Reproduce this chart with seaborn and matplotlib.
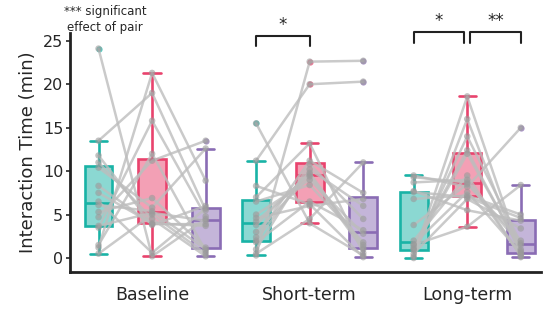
import pandas as pd
import seaborn as sns
import matplotlib.pyplot as plt
from matplotlib.colors import to_rgba

sessions = ["Baseline", "Short-term", "Long-term"]
conditions = ["A", "B", "C"]
edge_colors = ["#19b3a6", "#e9436d", "#8a6cb4"]

# one value per participant (16) for each session / condition
bl_a = [24.1, 0.5, 13.5, 6.1, 1.2, 11.0, 4.7, 8.3, 3.5, 10.4, 1.5, 6.5, 5.3, 11.8, 3.7, 7.5]
bl_b = [0.2, 5.0, 19.0, 5.4, 21.3, 4.5, 11.2, 3.9, 15.8, 5.8, 12.0, 0.6, 6.9, 3.8, 5.2, 4.0]
bl_c = [4.5, 0.5, 5.5, 1.0, 8.9, 0.2, 13.5, 3.9, 4.8, 12.6, 0.8, 5.7, 1.2, 6.0, 4.3, 3.7]
st_a = [15.5, 0.3, 4.2, 2.0, 11.2, 3.0, 1.8, 7.0, 0.5, 5.0, 2.4, 8.3, 1.0, 6.5, 4.6, 3.8]
st_b = [4.0, 22.6, 9.6, 10.2, 20.0, 9.4, 6.5, 13.2, 4.5, 9.0, 11.2, 6.2, 10.8, 8.4, 6.0, 9.8]
st_c = [0.3, 22.7, 1.5, 6.0, 20.3, 1.0, 3.2, 0.6, 11.0, 2.8, 7.5, 0.1, 4.5, 1.8, 6.8, 1.2]
lt_a = [0.2, 9.5, 1.0, 7.6, 0.0, 3.8, 1.5, 8.7, 0.9, 6.8, 1.2, 7.7, 2.0, 0.5, 9.3, 1.6]
lt_b = [18.6, 8.2, 12.0, 7.0, 16.0, 8.5, 3.6, 9.0, 14.0, 7.2, 12.4, 5.5, 9.5, 6.8, 8.7, 7.6]
lt_c = [0.5, 15.0, 1.0, 4.6, 0.1, 2.0, 8.4, 0.3, 1.7, 5.0, 0.8, 4.3, 0.2, 3.4, 1.5, 0.6]

values = {
    "Baseline": [bl_a, bl_b, bl_c],
    "Short-term": [st_a, st_b, st_c],
    "Long-term": [lt_a, lt_b, lt_c],
}

OFFSET = 0.34

rows = []
for si, s in enumerate(sessions):
    for ci, c in enumerate(conditions):
        for subj, v in enumerate(values[s][ci]):
            rows.append({"subject": subj, "session": s, "cond": c, "time": v,
                         "pos": si + (ci - 1) * OFFSET, "unit": f"{subj}-{s}"})
df = pd.DataFrame(rows)

sns.set_style("white")
plt.rcParams["font.family"] = ["DejaVu Sans"]

fig, ax = plt.subplots(figsize=(5.44, 3.14), dpi=100)
fig.subplots_adjust(left=0.129, right=0.995, bottom=0.134, top=0.895)

sns.boxplot(data=df, x="pos", y="time", hue="cond", palette=edge_colors,
            native_scale=True, dodge=False, width=0.55, linewidth=1.9,
            saturation=1, fliersize=4.5, legend=False, ax=ax)

for cont, col in zip(ax.containers, edge_colors):
    for b in cont.boxes:
        b.set_facecolor(to_rgba(col, 0.5))
        b.set_edgecolor(col)
    for ln in list(cont.whiskers) + list(cont.caps) + list(cont.medians):
        ln.set_color(col)
    for cap in cont.caps:
        x0, x1 = cap.get_xdata()
        m = (x0 + x1) / 2
        cap.set_xdata([m - 0.055, m + 0.055])
    for f in cont.fliers:
        f.set_markerfacecolor(col)
        f.set_markeredgecolor("none")
        f.set_alpha(0.7)

sns.lineplot(data=df, x="pos", y="time", units="unit", estimator=None,
             color="#bdbdbd", lw=1.8, alpha=0.8, ax=ax, zorder=3)
sns.scatterplot(data=df, x="pos", y="time", color="#9a9a9a", s=22,
                alpha=0.6, edgecolor="none", ax=ax, zorder=4)

ax.set_xlim(-0.52, 2.47)
ax.set_ylim(-1.6, 25.9)
ax.set_xticks(range(len(sessions)), sessions, fontsize=12.5)
ax.set_yticks([0, 5, 10, 15, 20, 25])
ax.tick_params(axis="y", labelsize=11.5, length=3, width=1.2, left=True,
               pad=2)
ax.tick_params(axis="x", length=0, pad=10)
ax.set_xlabel("")
ax.set_ylabel("Interaction Time (min)", fontsize=13, labelpad=4)
sns.despine(ax=ax)
for sp in ["left", "bottom"]:
    ax.spines[sp].set_linewidth(2)
    ax.spines[sp].set_color("#222222")


def bracket(x1, x2, y, star, h=1.2):
    ax.plot([x1, x1, x2, x2], [y - h, y, y, y - h], color="#222222",
            lw=1.5, clip_on=False)
    ax.text((x1 + x2) / 2, y + 0.2, star, ha="center", va="bottom",
            fontsize=12, clip_on=False)


bracket(1 - OFFSET, 1, 25.6, "*")
bracket(2 - OFFSET, 2 - 0.02, 26.0, "*")
bracket(2 + 0.02, 2 + OFFSET, 26.0, "**")

fig.text(0.193, 0.985, "*** significant\neffect of pair", ha="center",
         va="top", fontsize=8.5, linespacing=1.3)

fig.savefig("out.png", dpi=100)
